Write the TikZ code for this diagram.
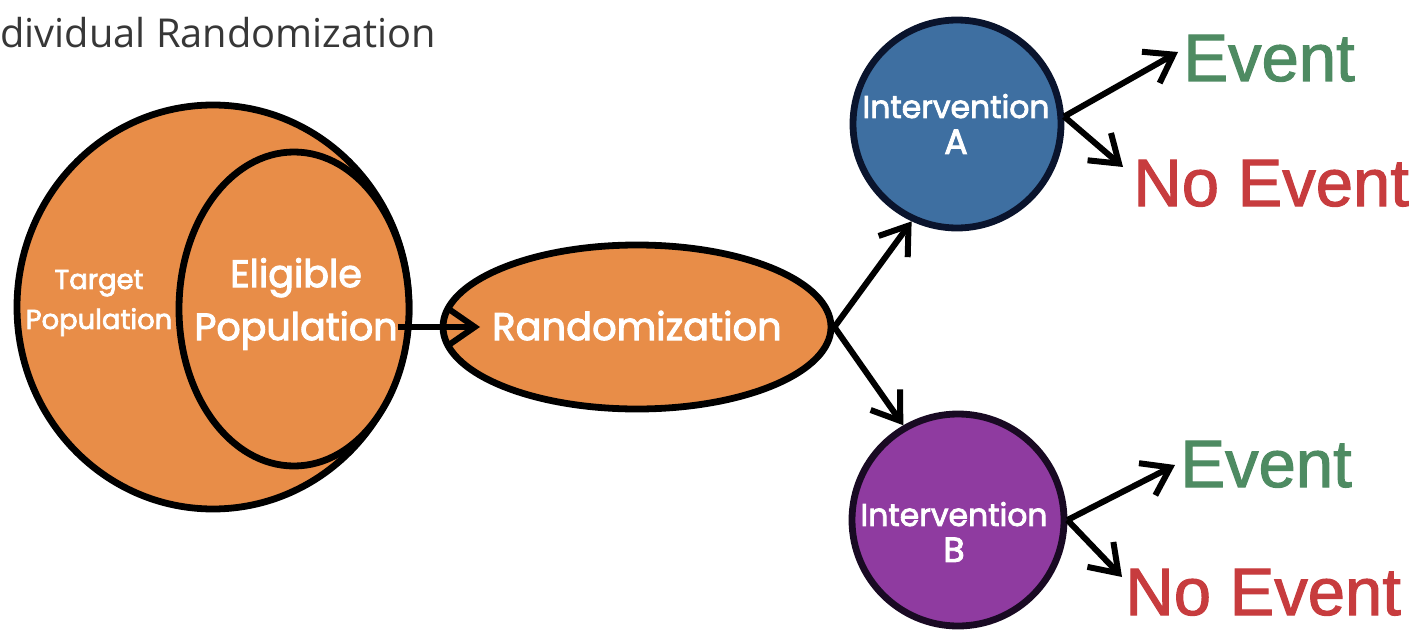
\documentclass[tikz,border=0pt]{standalone}
\usepackage{fontspec}
\setmainfont{Liberation Sans}[FakeBold=1.6]
\newfontfamily\popfont{Poppins}[FakeBold=2.6]
\newfontfamily\osfont{Open Sans}
\usetikzlibrary{shapes.geometric,arrows.meta}
\definecolor{orng}{RGB}{232,141,72}
\definecolor{blueA}{RGB}{62,111,161}
\definecolor{purpB}{RGB}{143,59,160}
\definecolor{evgreen}{RGB}{78,139,98}
\definecolor{evred}{RGB}{199,60,62}
\definecolor{titlegrey}{RGB}{55,55,55}
\definecolor{navyline}{RGB}{10,20,45}
\definecolor{plumline}{RGB}{25,10,35}
\begin{document}
\begin{tikzpicture}[x=0.5pt,y=-0.5pt,
  blob/.style={ellipse, draw=black, line width=3.4pt, fill=orng, inner sep=0pt},
  disc/.style={circle, line width=3.4pt, inner sep=0pt},
  wlabel/.style={text=white, inner sep=0pt, align=center},
  outcome/.style={inner sep=0pt, anchor=base west, font=\fontsize{33.5}{40}\selectfont},
  arr/.style={line width=3pt, -{Straight Barb[length=13pt,width=18pt]}}]
\useasboundingbox (0,0) rectangle (1417,631);

% title
\node[anchor=base west, inner sep=0pt, text=titlegrey, font=\osfont\fontsize{19.9}{24}\selectfont] (title) at (0,48) {dividual Randomization};

% population shapes
\node[blob, minimum width=196pt, minimum height=202pt] (target) at (213,307) {};
\node[blob, minimum width=115pt, minimum height=157pt] (elig) at (294,309) {};
\node[blob, minimum width=194pt, minimum height=82pt] (rand) at (637,327) {};

\node[wlabel, font=\popfont\fontsize{13.7}{20}\selectfont] (targettxt) at (99,303) {Target\\Population};
\node[wlabel, font=\popfont\fontsize{19}{26.5}\selectfont] (eligtxt) at (296,304) {Eligible\\Population};
\node[wlabel, anchor=base, font=\popfont\fontsize{19.2}{23}\selectfont] (randtxt) at (637,340) {Randomization};

% intervention discs
\node[disc, draw=navyline, fill=blueA, minimum size=104pt] (A) at (957,124) {};
\node[disc, draw=plumline, fill=purpB, minimum size=106pt] (B) at (958,520) {};
\node[wlabel, font=\popfont\fontsize{15.7}{18}\selectfont] (Atxt) at (956,124) {Intervention\\{\fontsize{17.5}{18}\selectfont A}};
\node[wlabel, font=\popfont\fontsize{15.7}{18}\selectfont] (Btxt) at (954,532) {Intervention\\{\fontsize{17.5}{18}\selectfont B}};

% outcomes
\node[outcome, text=evgreen] (evA) at (1183,81) {Event};
\node[outcome, text=evred] (neA) at (1133,206) {No Event};
\node[outcome, text=evgreen] (evB) at (1180,487) {Event};
\node[outcome, text=evred] (neB) at (1125,615) {No Event};

\coordinate (randin) at (480,327);
\coordinate (evAtip) at (1178,52);
\coordinate (neAtip) at (1123,167);
\coordinate (evBtip) at (1175,465);
\coordinate (neBtip) at (1122,577);

% connectors
\draw[arr] (eligtxt.east |- rand.west) -- (randin);
\draw[arr] (rand.east) -- (A.245);
\draw[arr] (rand.east) -- (B.120);
\draw[arr] (A.4) -- (evAtip);
\draw[arr] (A.4) -- (neAtip);
\draw[arr] (B.east) -- (evBtip);
\draw[arr] (B.east) -- (neBtip);
\end{tikzpicture}
\end{document}
